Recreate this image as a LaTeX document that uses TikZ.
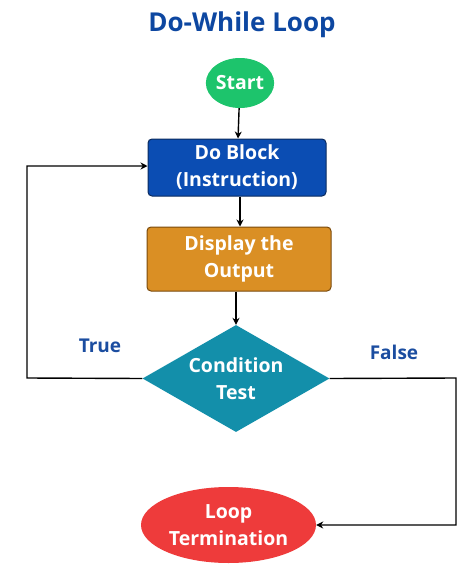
\documentclass[tikz,border=0pt]{standalone}
\usepackage{fontspec}
\setmainfont{Open Sans}
\usetikzlibrary{shapes.geometric,arrows.meta}

\definecolor{titleblue}{HTML}{0D47A1}
\definecolor{startgreen}{HTML}{1DC46C}
\definecolor{doblue}{HTML}{0B4DB3}
\definecolor{doborder}{HTML}{0A2A5E}
\definecolor{outorange}{HTML}{DA8F24}
\definecolor{outborder}{HTML}{7A4A0C}
\definecolor{condteal}{HTML}{138FAA}
\definecolor{termred}{HTML}{EE3B3B}
\definecolor{labelblue}{HTML}{1B4DA0}

\tikzset{
  boxtext/.style={text=white, font=\bfseries\fontsize{19.5}{27}\selectfont, align=center},
  flowbox/.style={boxtext, rectangle, rounded corners=4pt, draw, line width=1pt, inner sep=0pt},
  flowarrow/.style={draw, line width=1.4pt, -{Stealth[length=7pt,width=7pt]}},
}

\begin{document}
\begin{tikzpicture}[x=1pt,y=-1pt]

      \useasboundingbox (0,0) rectangle (474,568);

      \node[font=\bfseries\fontsize{26}{30}\selectfont, text=titleblue] (title) at (242,25) {Do-While Loop};

      % flow blocks
      \node[boxtext, ellipse, fill=startgreen, inner sep=0pt, minimum width=66pt, minimum height=50pt] (start) at (240,83) {Start};
      \node[flowbox, fill=doblue, draw=doborder, minimum width=178pt, minimum height=57pt] (do) at (237,167.5) {Do Block\\(Instruction)};
      \node[flowbox, fill=outorange, draw=outborder, minimum width=184pt, minimum height=64pt] (out) at (239,259) {Display the\\Output};
      \node[boxtext, diamond, fill=condteal, inner sep=0pt, aspect=1.75, minimum width=187pt, minimum height=107pt] (cond) at (236,378.5) {Condition\\Test};
      \node[boxtext, ellipse, fill=termred, inner sep=0pt, minimum width=175pt, minimum height=76pt] (term) at (228.5,525) {Loop\\Termination};

      % corners of the loops
      \coordinate (tl) at (27,378);
      \coordinate (bl) at (27,166);
      \coordinate (tr) at (456,378);
      \coordinate (br) at (456,525);

      \draw[flowarrow] (start) -- (do);
      \draw[flowarrow] (do.south -| 240,0) -- (out.north -| 240,0);
      \draw[flowarrow] (out.south -| cond.north) -- (cond.north);
      \draw[flowarrow] (cond.west) -- (tl) -- (bl) -- (do.west |- bl);
      \draw[flowarrow] (cond.east) -- (tr) -- (br) -- (term.east);

      \node[font=\bfseries\fontsize{19}{22}\selectfont, text=labelblue] (true) at (100,346) {True};
      \node[font=\bfseries\fontsize{19}{22}\selectfont, text=labelblue] (false) at (394,352) {False};

    \end{tikzpicture}
\end{document}
